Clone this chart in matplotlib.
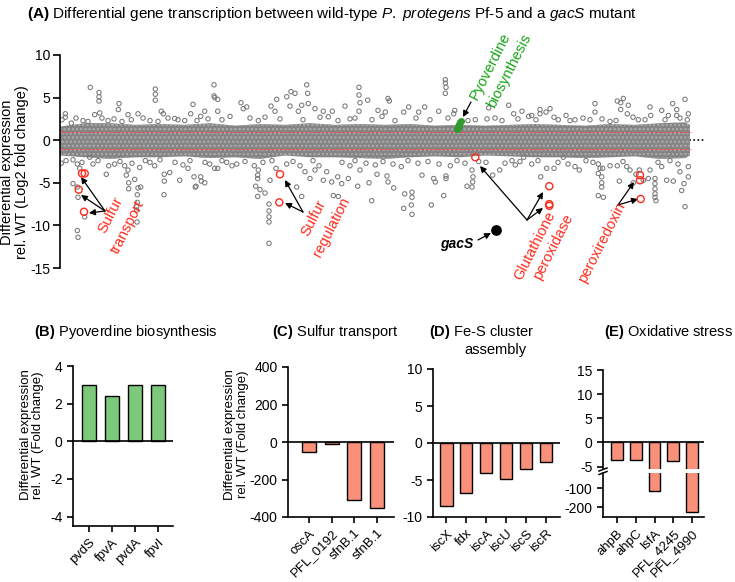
import matplotlib
matplotlib.use("Agg")
import matplotlib.pyplot as plt

plt.rcParams["font.family"] = ["Liberation Sans", "DejaVu Sans"]
plt.rcParams["mathtext.fontset"] = "custom"
plt.rcParams["mathtext.rm"] = "Liberation Sans"
plt.rcParams["mathtext.it"] = "Liberation Sans:italic"
plt.rcParams["mathtext.bf"] = "Liberation Sans:bold"
plt.rcParams["axes.unicode_minus"] = False
plt.rcParams["hatch.linewidth"] = 0.4

W, H = 735, 582

# ---- panel A: genome-wide log2 fold change (gene index vs log2FC) ----
# dense core of the cloud, read as an upper/lower envelope
band_gene = [0, 250, 500, 750, 1000, 1250, 1500, 1750, 2000, 2250, 2500, 2750, 3000,
             3250, 3500, 3750, 4000, 4250, 4500, 4750, 5000, 5250, 5500, 5750, 6000, 6250, 6300]
band_hi = [1.6, 2.0, 2.0, 1.8, 1.9, 1.8, 2.0, 1.7, 1.9, 1.8, 2.0, 1.8, 1.9,
           1.8, 1.9, 1.7, 1.8, 1.7, 1.8, 1.9, 1.8, 1.7, 1.9, 1.8, 2.0, 2.1, 1.8]
band_lo = [-1.8, -2.0, -2.2, -2.0, -2.0, -1.9, -2.1, -2.0, -2.2, -1.8, -2.0, -2.0, -2.1,
           -2.2, -2.0, -1.9, -2.0, -1.8, -1.9, -2.0, -2.0, -2.1, -2.0, -1.9, -2.2, -2.1, -1.8]

# individual genes outside the core
up_genes = [
    (303, 6.2), (390, 5.6), (390, 5.1), (390, 4.6), (397, 3.2), (590, 4.3), (583, 3.6),
    (780, 3.1), (953, 6.0), (953, 5.4), (953, 4.7), (1013, 3.4), (1033, 3.1), (1147, 2.55),
    (1330, 4.2), (1307, 3.1), (1447, 3.4), (1407, 2.8), (1540, 6.5), (1540, 5.2), (1547, 5.0),
    (53, 3.1), (53, 2.7), (347, 3.0), (480, 2.3), (680, 3.0), (713, 2.4), (980, 2.2),
    (1247, 2.3), (113, 2.0), (280, 2.2),
    (1577, 4.8), (1577, 3.4), (1810, 4.4), (1833, 3.7), (1867, 3.9), (2110, 4.0), (2167, 4.8),
    (2150, 3.4), (2267, 5.1), (2310, 5.7), (2350, 5.5), (2300, 4.0), (2467, 6.5), (2477, 5.5),
    (2483, 4.3), (2550, 3.7), (2633, 3.4), (2723, 3.4), (2850, 4.0), (2900, 2.5), (2990, 6.2),
    (2990, 5.3), (3000, 4.4), (2990, 3.4), (3077, 4.7), (1983, 2.3), (2383, 3.4), (2417, 4.1),
    (2683, 2.75),
    (3280, 4.9), (3293, 4.6), (3180, 3.5), (3253, 3.3), (3437, 3.3), (3487, 3.9), (3587, 3.3),
    (3647, 3.9), (3787, 3.4), (3853, 7.1), (3853, 6.7), (3860, 6.2), (3853, 5.5), (3947, 3.5),
    (3937, 3.1), (4153, 2.4), (4287, 3.8), (4487, 4.1), (4537, 3.1), (4620, 3.4), (4687, 2.8),
    (4270, 2.5),
    (4717, 2.9), (4800, 3.6), (4800, 3.1), (4900, 3.7), (4860, 3.3), (4983, 2.4), (5060, 2.9),
    (5150, 2.4), (5300, 2.4), (5350, 4.3), (5350, 3.3), (5500, 2.2), (5573, 4.6), (5607, 4.4),
    (5607, 3.6), (5633, 4.9), (5683, 4.1), (5673, 3.1), (5783, 2.4), (5900, 3.9), (5907, 2.9),
    (6017, 3.5), (6083, 2.9), (6127, 4.3), (6167, 3.6), (6167, 2.9), (6250, 4.8), (6283, 3.1),
    (6273, 2.4),
    # fringe just above the core
    (20, 2.4), (160, 2.6), (230, 2.3), (420, 2.6), (540, 2.5), (620, 2.2), (830, 2.6),
    (900, 2.3), (1080, 2.6), (1180, 2.4), (1370, 2.3), (1480, 2.5), (1620, 2.4), (1700, 2.8),
    (1900, 2.6), (2050, 2.7), (2200, 2.5), (2430, 2.4), (2600, 2.7), (2780, 2.3), (2950, 2.6),
    (3120, 2.4), (3220, 2.8), (3350, 2.3), (3560, 2.6), (3700, 2.4), (3880, 2.6), (4080, 2.3),
    (4350, 2.6), (4420, 2.3), (4580, 2.5), (4760, 2.4), (4940, 2.7), (5100, 2.3), (5230, 2.6),
    (5420, 2.5), (5560, 2.3), (5730, 2.7), (5850, 2.4), (6050, 2.4), (6200, 2.6),
]
down_genes = [
    (13, -2.7), (130, -2.3), (173, -2.8), (197, -3.3), (130, -5.1), (173, -5.5), (180, -6.7),
    (247, -9.0), (173, -10.6), (180, -11.4), (463, -4.0), (487, -3.0), (547, -2.8), (647, -3.0),
    (680, -3.5), (663, -4.1), (687, -5.0), (687, -5.7), (747, -4.6), (797, -3.2), (780, -5.6),
    (773, -6.4), (773, -7.3), (767, -7.8), (767, -8.2), (770, -9.6), (807, -5.5), (1043, -4.0),
    (1043, -4.8), (1040, -6.4), (1097, -3.8), (1197, -4.7), (1280, -3.3), (1340, -4.3),
    (1353, -5.5), (1360, -5.4), (1407, -4.3), (1413, -4.8), (1447, -5.0), (1497, -2.8),
    (1547, -3.3), (947, -3.0), (853, -2.4), (380, -2.4), (297, -2.0),
    (1577, -3.3), (1667, -2.6), (1767, -2.8), (1943, -3.0), (1983, -3.5), (1977, -4.1),
    (1977, -4.5), (1957, -5.4), (2000, -5.8), (1977, -6.6), (2050, -6.2), (2100, -4.7),
    (2090, -7.5), (2090, -8.3), (2090, -9.0), (2090, -9.6), (2090, -12.1), (2160, -3.3),
    (2267, -2.8), (2417, -6.6), (2367, -5.5), (2450, -3.7), (2500, -4.5), (2590, -3.0),
    (2633, -4.7), (2733, -6.5), (2783, -6.6), (2717, -4.9), (2777, -4.3), (2817, -5.1),
    (2883, -4.5), (2900, -3.0), (2977, -5.4), (3000, -3.5), (3090, -5.0), (3117, -7.1),
    (2550, -3.5), (2667, -3.7),
    (3153, -2.9), (3170, -4.0), (3270, -4.2), (3280, -4.9), (3337, -5.6), (3413, -3.1),
    (3447, -6.3), (3437, -8.0), (3520, -6.1), (3520, -6.7), (3513, -7.6), (3520, -8.7),
    (3713, -7.6), (3620, -4.1), (3737, -4.5), (3753, -4.9), (3860, -4.2), (3860, -4.5),
    (3837, -6.5), (3903, -3.0), (4070, -5.4), (4120, -3.5), (4130, -4.3), (4127, -4.9),
    (4120, -5.5), (4187, -2.5), (4327, -4.1), (4397, -3.5), (4520, -2.4), (4553, -2.9),
    (4637, -2.0),
    (4717, -2.8), (4807, -4.3), (4867, -3.3), (4940, -3.3), (5033, -2.0), (5150, -3.1),
    (5193, -3.5), (5383, -2.8), (5400, -3.3), (5383, -3.9), (5427, -3.3), (5417, -4.3),
    (5417, -5.0), (5417, -5.5), (5383, -6.5), (5433, -6.7), (5500, -3.0), (5573, -3.0),
    (5667, -3.1), (5700, -3.5), (5593, -4.8), (5733, -5.0), (5760, -4.0), (5833, -4.7),
    (5883, -4.5), (5900, -3.5), (5950, -4.5), (5950, -5.1), (5950, -5.7), (5950, -6.3),
    (5950, -6.7), (5960, -7.1), (6017, -3.1), (6067, -4.7), (6133, -4.8), (6200, -3.7),
    (6240, -5.1), (6217, -5.9), (6250, -7.8), (6283, -3.1), (6283, -4.3), (5793, -3.5),
    # fringe just below the core
    (60, -2.4), (220, -2.6), (330, -2.8), (600, -2.5), (720, -2.7), (900, -2.6), (1000, -2.3),
    (1150, -2.6), (1230, -2.9), (1300, -2.4), (1450, -2.6), (1620, -2.4), (1720, -3.0),
    (1850, -2.5), (2030, -2.6), (2120, -2.4), (2330, -2.5), (2400, -3.0), (2530, -2.4),
    (2820, -2.6), (2950, -2.4), (3060, -2.7), (3230, -2.5), (3330, -2.8), (3480, -2.4),
    (3580, -2.7), (3680, -2.5), (3790, -2.8), (3970, -2.4), (4050, -2.7), (4260, -2.6),
    (4450, -2.7), (4600, -2.5), (4780, -2.4), (4980, -2.6), (5080, -2.8), (5260, -2.4),
    (5330, -2.6), (5630, -2.5), (5980, -2.6), (6100, -2.4), (6180, -2.8),
]
pyoverdine_genes = [(3970, 1.3), (3985, 1.5), (3980, 1.7), (3990, 1.9), (4000, 2.1), (4010, 2.3)]
highlight_genes = [
    (220, -3.9), (247, -3.9), (187, -5.8), (240, -8.4),        # sulfur transport
    (2200, -4.0), (2193, -7.3),                                 # sulfur regulation
    (4153, -2.0), (4893, -5.4), (4893, -7.5), (4893, -7.7),     # glutathione peroxidase
    (5800, -4.1), (5800, -4.7), (5807, -6.9),                   # peroxiredoxin
]
gacs_gene = (4360, -10.5)

# ---- panels B-E: fold change bars ----
pyo_labels = ["pvdS", "fpvA", "pvdA", "fpvI"]
pyo_fc = [3.0, 2.4, 3.0, 3.0]
sulf_labels = ["oscA", "PFL_0192", "sfnB.1", "sfnB.1"]
sulf_fc = [-55, -10, -310, -350]
fes_labels = ["iscX", "fdx", "iscA", "iscU", "iscS", "iscR"]
fes_fc = [-8.5, -6.8, -4.1, -4.9, -3.5, -2.5]
ox_labels = ["ahpB", "ahpC", "lsfA", "PFL_4245", "PFL_4990"]
ox_fc = [-3.7, -3.7, -115, -3.9, -225]

GRAY = "#787878"
RED = "#ff2b1c"
GREEN = "#17a317"
UP_BAR = "#7cc97c"
DOWN_BAR = "#f9907a"


def px_axes(fig, x0, y0, x1, y1):
    return fig.add_axes([x0 / W, 1 - y1 / H, (x1 - x0) / W, (y1 - y0) / H])


def ftext(fig, px, py, s, **kw):
    fig.text(px / W, 1 - py / H, s, **kw)


def arrow(ax, tail, head):
    ax.annotate("", xy=(head[0], H - head[1]), xycoords="figure pixels",
                xytext=(tail[0], H - tail[1]), textcoords="figure pixels",
                arrowprops=dict(arrowstyle="-|>", color="k", lw=0.9,
                                mutation_scale=9, shrinkA=0, shrinkB=0))


def style_axis(ax, lw=1.2):
    for side in ("top", "right"):
        ax.spines[side].set_visible(False)
    for side in ("left", "bottom"):
        ax.spines[side].set_linewidth(lw)
    ax.tick_params(width=lw, length=4, direction="out")


fig = plt.figure(figsize=(W / 100, H / 100), dpi=100)

# ================= panel A =================
axA = px_axes(fig, 60, 55, 705, 268)
axA.set_xlim(0, 6450)
axA.set_ylim(-15, 10)
axA.axhline(0, color="k", lw=1.2, ls=(0, (1, 1.5)), zorder=0.5)
axA.fill_between(band_gene, band_lo, band_hi, facecolor="#848484",
                 edgecolor="#a6a6a6", hatch="oooo", lw=0, zorder=1)
gx = [g for g, _ in up_genes + down_genes]
gy = [v for _, v in up_genes + down_genes]
axA.scatter(gx, gy, s=10, facecolors="none", edgecolors=GRAY, linewidths=0.75, zorder=2)
axA.hlines([1, -1], 0, 6310, colors="#ff4040", linestyles=(0, (4, 2)), lw=0.6, zorder=3)
axA.scatter([g for g, _ in pyoverdine_genes], [v for _, v in pyoverdine_genes],
            s=16, color="#2f9a2f", zorder=4)
axA.scatter([g for g, _ in highlight_genes], [v for _, v in highlight_genes],
            s=26, facecolors="none", edgecolors=RED, linewidths=1.0, zorder=4)
axA.scatter([gacs_gene[0]], [gacs_gene[1]], s=45, color="k", zorder=4)

for side in ("top", "right", "bottom"):
    axA.spines[side].set_visible(False)
axA.spines["left"].set_linewidth(1.2)
axA.set_xticks([])
axA.set_yticks([-15, -10, -5, 0, 5, 10])
axA.tick_params(axis="y", width=1.2, length=5, pad=2, labelsize=10)
axA.set_ylabel("Differential expression\nrel. WT (Log2 fold change)", fontsize=10.5,
               linespacing=1.05)
axA.yaxis.set_label_coords(-0.048, 0.45)

ftext(fig, 27, 14, r"$\mathbf{(A)}$ Differential gene transcription between wild-type "
      r"$\mathit{P.\ protegens}$ Pf-5 and a $\mathit{gacS}$ mutant",
      fontsize=11, ha="left", va="center")

# annotations
lab = dict(rotation=63, rotation_mode="anchor", ha="center", va="center", fontsize=10.5)
ftext(fig, 111, 215, "Sulfur", color=RED, **lab)
ftext(fig, 128, 227, "transport", color=RED, **lab)
for head in [(81, 177), (81, 195), (89, 213)]:
    arrow(axA, (105, 211), head)

ftext(fig, 314, 218, "Sulfur", color=RED, **lab)
ftext(fig, 331, 227, "regulation", color=RED, **lab)
for head in [(285, 180), (285, 203)]:
    arrow(axA, (303, 212), head)

ftext(fig, 490, 66, "Pyoverdine", color=GREEN, **lab)
ftext(fig, 509, 71, "biosynthesis", color=GREEN, **lab)
arrow(axA, (471, 102), (463, 117))

ftext(fig, 535, 246, "Glutathione", color=RED, **lab)
ftext(fig, 553, 247, "peroxidase", color=RED, **lab)
for head in [(480, 166), (543, 192), (543, 208)]:
    arrow(axA, (527, 220), head)

ftext(fig, 602, 243, "peroxiredoxin", color=RED, **lab)
for head in [(634, 182), (638, 199)]:
    arrow(axA, (618, 205), head)

ftext(fig, 457, 244, "gacS", fontsize=10, fontweight="bold", style="italic",
      ha="center", va="center")
arrow(axA, (478, 240), (491, 233))


# ================= bar panels =================
def bar_panel(rect, labels, values, color, xlim, ylim, yticks):
    ax = px_axes(fig, *rect)
    ax.bar(range(len(values)), values, width=0.62, color=color,
           edgecolor="k", lw=1.0, zorder=2)
    ax.axhline(0, color="k", lw=1.2, zorder=3)
    ax.set_xlim(*xlim)
    ax.set_ylim(*ylim)
    ax.set_yticks(yticks)
    ax.set_xticks(range(len(labels)))
    ax.set_xticklabels(labels, rotation=45, ha="right", rotation_mode="anchor", fontsize=9.5)
    ax.tick_params(axis="y", labelsize=10)
    style_axis(ax)
    return ax


axB = bar_panel((73, 366, 173, 526), pyo_labels, pyo_fc, UP_BAR,
                (-0.7, 3.65), (-4.5, 4), [-4, -2, 0, 2, 4])
axB.set_ylabel("Differential expression\nrel. WT (Fold change)", fontsize=9.5,
               linespacing=1.05)
axB.yaxis.set_label_coords(-0.29, 0.57)
ftext(fig, 126, 332, r"$\mathbf{(B)}$ Pyoverdine biosynthesis", fontsize=10.5,
      ha="center", va="center")

axC = bar_panel((288, 367, 394, 517), sulf_labels, sulf_fc, DOWN_BAR,
                (-0.93, 3.75), (-400, 400), [-400, -200, 0, 200, 400])
axC.set_ylabel("Differential expression\nrel. WT (Fold change)", fontsize=9.5,
               linespacing=1.05)
axC.yaxis.set_label_coords(-0.37, 0.55)
ftext(fig, 335, 332, r"$\mathbf{(C)}$ Sulfur transport", fontsize=10.5,
      ha="center", va="center")

axD = bar_panel((433, 369, 560, 517), fes_labels, fes_fc, DOWN_BAR,
                (-0.67, 5.7), (-10, 10), [-10, -5, 0, 5, 10])
ftext(fig, 481, 332, r"$\mathbf{(D)}$ Fe-S cluster", fontsize=10.5, ha="center", va="center")
ftext(fig, 495, 350, "assembly", fontsize=10.5, ha="center", va="center")

# panel E: broken y axis
e_xlim = (-0.75, 4.64)
axEu = px_axes(fig, 603, 370, 704, 469)
axEu.bar(range(len(ox_fc)), ox_fc, width=0.62, color=DOWN_BAR, edgecolor="k", lw=1.0, zorder=2)
axEu.axhline(0, color="k", lw=1.2, zorder=3)
axEu.set_xlim(*e_xlim)
axEu.set_ylim(-5.5, 15)
axEu.set_yticks([-5, 0, 5, 10, 15])
axEu.set_xticks([])
axEu.tick_params(axis="y", labelsize=10)
style_axis(axEu)
axEu.spines["bottom"].set_visible(False)

axEl = bar_panel((603, 473, 704, 517), ox_labels, ox_fc, DOWN_BAR,
                 e_xlim, (-250, -21), [-200, -100])
for yb in (469.5, 473):
    axEl.plot([599, 607], [H - yb - 1.5, H - yb + 1.5], transform=None, color="k",
              lw=1.1, clip_on=False)
ftext(fig, 669, 332, r"$\mathbf{(E)}$ Oxidative stress", fontsize=10.5,
      ha="center", va="center")

fig.savefig("out.png", dpi=100)
